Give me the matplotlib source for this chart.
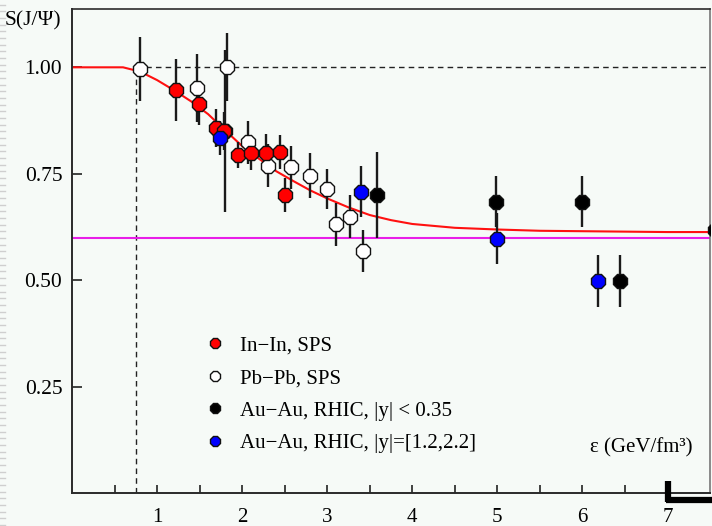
import matplotlib
matplotlib.use("Agg")
import matplotlib.pyplot as plt
from matplotlib.lines import Line2D
from matplotlib.ticker import FixedLocator

plt.rcParams['font.family'] = ['Liberation Serif', 'DejaVu Serif']

# In-In, SPS
inin_x = [1.22, 1.49, 1.69, 1.79, 1.95, 2.11, 2.28, 2.45, 2.50]
inin_y = [0.946, 0.914, 0.857, 0.850, 0.794, 0.799, 0.799, 0.800, 0.700]
inin_err = [0.073, 0.05, 0.045, 0.045, 0.03, 0.04, 0.045, 0.04, 0.04]

# Pb-Pb, SPS
pbpb_x = [0.80, 1.47, 1.82, 1.80, 2.07, 2.30, 2.58, 2.80, 3.00, 3.10, 3.27, 3.42]
pbpb_y = [0.997, 0.951, 1.000, 0.850, 0.824, 0.769, 0.765, 0.745, 0.714, 0.631, 0.649, 0.568]
pbpb_err = [0.075, 0.08, 0.08, 0.19, 0.05, 0.05, 0.05, 0.053, 0.047, 0.05, 0.05, 0.05]

# Au-Au, RHIC, mid rapidity
aumid_x = [3.58, 4.98, 6.00, 6.44, 7.56]
aumid_y = [0.700, 0.684, 0.684, 0.498, 0.618]
aumid_err = [0.10, 0.06, 0.06, 0.06, 0.06]

# Au-Au, RHIC, forward rapidity
aufwd_x = [1.74, 3.40, 5.00, 6.18]
aufwd_y = [0.834, 0.708, 0.597, 0.498]
aufwd_err = [0.04, 0.06, 0.06, 0.06]

# Suppression curve
curve_x = [0.0, 0.6, 0.8, 1.0, 1.2, 1.4, 1.6, 1.8, 2.0, 2.2, 2.4, 2.6, 2.8,
           3.0, 3.25, 3.5, 3.75, 4.0, 4.5, 5.0, 5.5, 6.0, 7.0, 7.5]
curve_y = [1.0, 1.0, 0.99, 0.97, 0.946, 0.92, 0.89, 0.852, 0.815, 0.785, 0.756,
           0.733, 0.711, 0.692, 0.671, 0.653, 0.641, 0.632, 0.623, 0.619, 0.616,
           0.615, 0.613, 0.613]

threshold_x = 0.75
ref_level = 0.60

x_major = [1, 2, 3, 4, 5, 6, 7]
x_minor = [0.5, 1.5, 2.5, 3.5, 4.5, 5.5, 6.5]
y_ticks = [0.25, 0.50, 0.75, 1.00]
y_labels = ["0.25", "0.50", "0.75", "1.00"]

bg = '#f6faf7'
W, H = 712, 526
fig = plt.figure(figsize=(W / 100, H / 100), dpi=100, facecolor=bg)
ax = fig.add_axes([72 / W, (H - 493) / H, (710 - 72) / W, (493 - 9) / H])
ax.set_facecolor(bg)
ax.set_xlim(0, 7.5)
ax.set_ylim(0, 1.137)

# reference lines
ax.plot([threshold_x, threshold_x], [0, 1.0], ls=(0, (4, 3)), color='#222222', lw=1.0, zorder=2)
ax.plot([threshold_x, 7.5], [1.0, 1.0], ls=(0, (4, 3)), color='#222222', lw=1.0, zorder=2)
ax.axhline(ref_level, color='#e81ee8', lw=1.5, zorder=2)
ax.plot(curve_x, curve_y, color='#ff1010', lw=1.5, zorder=2)

ms = 10.5
ecol = '#1a1a1a'
ekw = dict(fmt='none', ecolor=ecol, elinewidth=1.7, capsize=0, zorder=3)
ax.errorbar(pbpb_x, pbpb_y, yerr=pbpb_err, **ekw)
ax.errorbar(inin_x, inin_y, yerr=inin_err, **ekw)
ax.errorbar(aumid_x, aumid_y, yerr=aumid_err, **ekw)
ax.errorbar(aufwd_x, aufwd_y, yerr=aufwd_err, **ekw)

mkw = dict(ls='none', marker='8', ms=ms, markeredgecolor='#111111', markeredgewidth=1.0)
ax.plot(pbpb_x, pbpb_y, markerfacecolor='white', zorder=4, **mkw)
ax.plot(inin_x, inin_y, markerfacecolor='#ff0000', zorder=5, **mkw)
ax.plot(aumid_x, aumid_y, markerfacecolor='black', zorder=5, **mkw)
ax.plot(aufwd_x, aufwd_y, markerfacecolor='#0000ff', zorder=6, **mkw)

# ticks
ax.xaxis.set_major_locator(FixedLocator(x_major))
ax.xaxis.set_minor_locator(FixedLocator(x_minor))
ax.set_yticks(y_ticks)
ax.set_yticklabels(y_labels)
ax.tick_params(axis='x', which='both', direction='in', length=6, width=1.2,
               labelsize=15, pad=11, color='#222222', top=False)
ax.tick_params(axis='y', which='major', direction='in', length=7.5, width=1.2,
               labelsize=15.5, pad=7, color='#222222', right=False)
ax.tick_params(axis='y', which='minor', left=False)
for s in ['left', 'bottom']:
    ax.spines[s].set_color('#2a2a2a')
    ax.spines[s].set_linewidth(1.4)
ax.spines['top'].set_color('#2a2a2a')
ax.spines['top'].set_linewidth(1.2)
ax.spines['right'].set_color('#777777')
ax.spines['right'].set_linewidth(1.2)

# axis titles
fig.text(5 / W, 1 - 21 / H, "S(J/Ψ)", fontsize=15.5, ha='left', va='center')
ax.text(0.893, 0.093, "ε (GeV/fm³)", transform=ax.transAxes, fontsize=15,
        ha='center', va='center')

# legend
lkw = dict(ls='none', marker='8', ms=7.5, markeredgecolor='#111111', markeredgewidth=1.0)
handles = [
    Line2D([], [], markerfacecolor='#ff0000', **lkw),
    Line2D([], [], markerfacecolor='white', **lkw),
    Line2D([], [], markerfacecolor='black', **lkw),
    Line2D([], [], markerfacecolor='#0000ff', **lkw),
]
labels = ["In−In, SPS", "Pb−Pb, SPS", "Au−Au, RHIC, |y| < 0.35",
          "Au−Au, RHIC, |y|=[1.2,2.2]"]
leg = ax.legend(handles, labels, loc='upper left',
                bbox_to_anchor=((205 - 72) / 638, (493 - 336) / 484),
                frameon=False, fontsize=15, handlelength=1.0, handletextpad=0.7,
                labelspacing=0.62, borderpad=0, borderaxespad=0)

# corner bracket and edge ruler marks
fig.add_artist(Line2D([668 / W, 668 / W], [1 - 481 / H, 1 - 502 / H], color='black',
                      lw=4.5, solid_capstyle='butt'))
fig.add_artist(Line2D([666 / W, 712 / W], [1 - 499.5 / H, 1 - 499.5 / H], color='black',
                      lw=4.5, solid_capstyle='butt'))
y = 4.7
while y < H:
    fig.add_artist(Line2D([0, 5 / W], [1 - y / H, 1 - y / H], color='#cfcfcf', lw=1.0))
    y += 6.67

fig.savefig("out.png", dpi=100, facecolor=bg)
